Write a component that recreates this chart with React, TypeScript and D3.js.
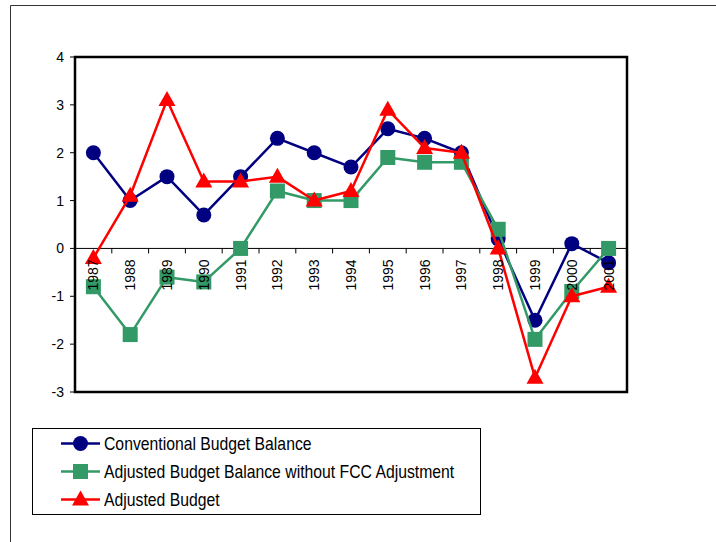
import React from "react";
import * as d3 from "d3";

const years = ["1987","1988","1989","1990","1991","1992","1993","1994","1995","1996","1997","1998","1999","2000","2001"];
const conventional = [2.0, 1.0, 1.5, 0.7, 1.5, 2.3, 2.0, 1.7, 2.5, 2.3, 2.0, 0.2, -1.5, 0.1, -0.3];
const adjustedNoFCC = [-0.8, -1.8, -0.6, -0.7, 0.0, 1.2, 1.0, 1.0, 1.9, 1.8, 1.8, 0.4, -1.9, -0.9, 0.0];
const adjustedBudget = [-0.2, 1.1, 3.1, 1.4, 1.4, 1.5, 1.0, 1.2, 2.9, 2.1, 2.0, 0.0, -2.7, -1.0, -0.8];
const yTicks = [4, 3, 2, 1, 0, -1, -2, -3];
const seriesNames = ["Conventional Budget Balance", "Adjusted Budget Balance without FCC Adjustment", "Adjusted Budget"];

const FONT = "'Liberation Sans', Arial, sans-serif";
const colors = ["#000080", "#339966", "#FF0000"];

const series = [
  { name: seriesNames[0], values: conventional, color: colors[0], shape: "circle" },
  { name: seriesNames[1], values: adjustedNoFCC, color: colors[1], shape: "square" },
  { name: seriesNames[2], values: adjustedBudget, color: colors[2], shape: "triangle" },
];

function Marker({ shape, x, y, color }: { shape: string; x: number; y: number; color: string }) {
  if (shape === "circle") return <circle cx={x} cy={y} r={7.5} fill={color} />;
  if (shape === "square") return <rect x={x - 7.5} y={y - 7.5} width={15} height={15} fill={color} />;
  return <path d={`M${x},${y - 9}L${x + 8.5},${y + 6}L${x - 8.5},${y + 6}Z`} fill={color} />;
}

export default function App() {
  const left = 75, right = 627, top = 57, bottom = 392;
  const x = d3.scaleBand<string>().domain(years).range([left, right]);
  const y = d3.scaleLinear().domain([-3, 4]).range([bottom, top]);
  const cx = (yr: string) => (x(yr) as number) + x.bandwidth() / 2;
  const line = d3.line<number>().x((_, i) => cx(years[i])).y((v) => y(v));
  const y0 = y(0);

  return (
    <svg width={716} height={542} style={{ position: "absolute", left: 0, top: 0, background: "#fff" }} fontFamily={FONT}>
      <rect x={0} y={0} width={716} height={542} fill="#fff" />
      {/* outer chart border */}
      <path d="M10.5,560 L10.5,5.5 L730,5.5" fill="none" stroke="#333" strokeWidth={1} />

      {/* y ticks */}
      {yTicks.map((t) => (
        <g key={t}>
          <line x1={left - 5} x2={left} y1={y(t)} y2={y(t)} stroke="#000" strokeWidth={1} />
          <text x={left - 11} y={y(t)} dy="0.36em" textAnchor="end" fontSize={14} fill="#000">{t}</text>
        </g>
      ))}

      {/* zero axis */}
      <line x1={left} x2={right} y1={y0} y2={y0} stroke="#000" strokeWidth={1} />
      {years.map((yr) => (
        <line key={"tk" + yr} x1={(x(yr) as number)} x2={(x(yr) as number)} y1={y0} y2={y0 + 5} stroke="#000" strokeWidth={1} />
      ))}
      <line x1={right} x2={right} y1={y0} y2={y0 + 5} stroke="#000" strokeWidth={1} />

      {/* series */}
      {series.map((s) => (
        <g key={s.name}>
          <path d={line(s.values) as string} fill="none" stroke={s.color} strokeWidth={2.5} strokeLinejoin="round" />
          {s.values.map((v, i) => (
            <Marker key={i} shape={s.shape} x={cx(years[i])} y={y(v)} color={s.color} />
          ))}
        </g>
      ))}

      {/* category labels drawn over the series */}
      {years.map((yr) => (
        <text key={"lb" + yr} transform={`translate(${cx(yr)},${y0 + 11}) rotate(-90)`} textAnchor="end" dy="0.36em" fontSize={14} fill="#000">{yr}</text>
      ))}

      {/* plot frame */}
      <rect x={left} y={top} width={right - left} height={bottom - top} fill="none" stroke="#000" strokeWidth={2.5} />

      {/* legend */}
      <rect x={32.5} y={428.5} width={448} height={86} fill="#fff" stroke="#000" strokeWidth={1} />
      {series.map((s, i) => {
        const ly = 443.5 + i * 28;
        return (
          <g key={"lg" + s.name}>
            <line x1={61} x2={100} y1={ly} y2={ly} stroke={s.color} strokeWidth={2.5} />
            <Marker shape={s.shape} x={80.5} y={ly} color={s.color} />
            <text transform={`translate(104,${ly}) scale(0.83,1)`} dy="0.36em" fontSize={19} fill="#000">{s.name}</text>
          </g>
        );
      })}
    </svg>
  );
}
